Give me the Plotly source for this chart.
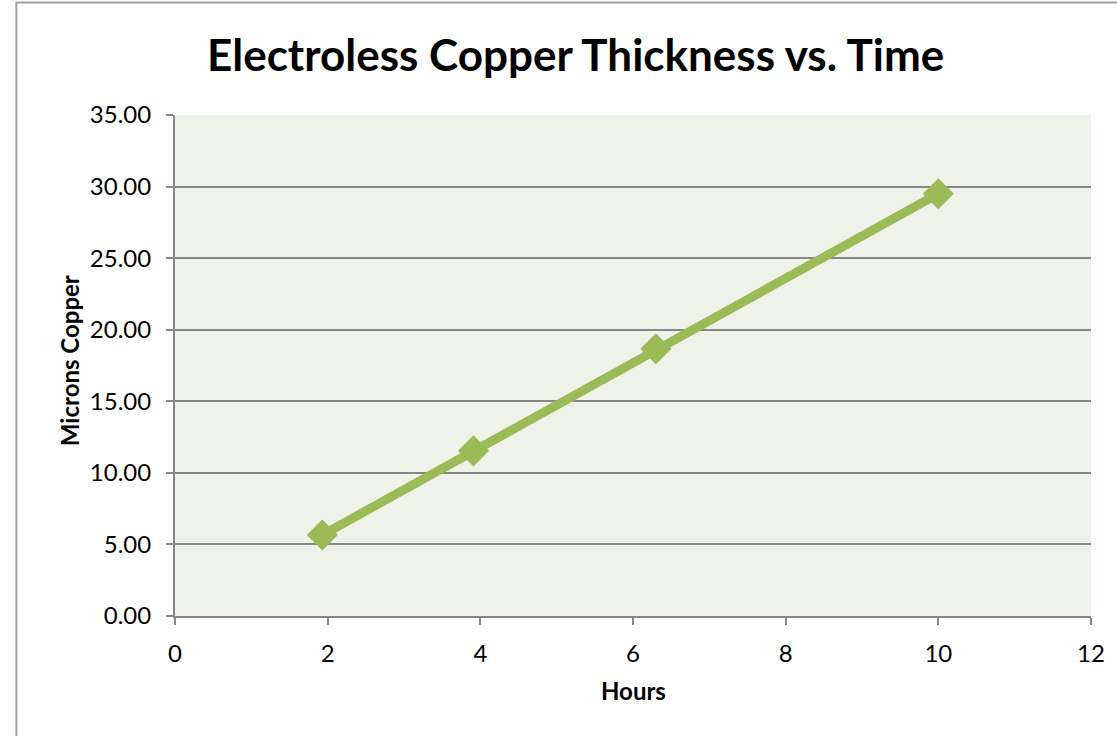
import plotly.graph_objects as go

hours = [1.93, 3.91, 6.30, 10.0]
microns = [5.66, 11.54, 18.67, 29.5]
title = "Electroless Copper Thickness vs. Time"
x_title = "Hours"
y_title = "Microns Copper"

FONT = "Lato"
GREEN = "#9BBB59"
GRID = "#878787"

fig = go.Figure()
fig.add_trace(go.Scatter(
    x=hours, y=microns, mode="lines+markers",
    line=dict(color=GREEN, width=9),
    marker=dict(symbol="diamond", size=24, color=GREEN),
    showlegend=False, cliponaxis=False,
))

fig.update_layout(
    width=1117, height=736,
    margin=dict(l=175, r=24, t=115, b=120),
    paper_bgcolor="white",
    plot_bgcolor="#EEF2E8",
    font=dict(family=FONT, color="black", size=24),
    xaxis=dict(range=[0, 12], dtick=2, tick0=0, showgrid=False, zeroline=False,
               showline=True, linecolor=GRID, linewidth=2,
               ticks="outside", ticklen=7, tickcolor=GRID, tickwidth=2,
               tickfont=dict(size=24, family=FONT), ticklabelstandoff=8),
    yaxis=dict(range=[0, 35], dtick=5, tick0=0, tickformat=".2f",
               showgrid=True, gridcolor=GRID, gridwidth=1.5, zeroline=False,
               showline=True, linecolor=GRID, linewidth=2,
               ticks="outside", ticklen=7, tickcolor=GRID, tickwidth=2,
               tickfont=dict(size=24, family=FONT), ticklabelstandoff=10),
    shapes=[dict(type="rect", xref="paper", yref="paper",
                 x0=-0.1732, x1=1.1, y0=-0.4, y1=1.2248,
                 line=dict(color="#A0A0A0", width=2), fillcolor="rgba(0,0,0,0)", layer="below")],
    annotations=[
        dict(text=f"<b>{title}</b>", xref="paper", yref="paper", x=0.4368, y=1.121,
             xanchor="center", yanchor="middle", showarrow=False,
             font=dict(size=44, family=FONT)),
        dict(text=f"<b>{x_title}</b>", xref="paper", yref="paper", x=0.5, y=-0.148,
             xanchor="center", yanchor="middle", showarrow=False,
             font=dict(size=24, family=FONT)),
        dict(text=f"<b>{y_title}</b>", xref="paper", yref="paper", x=-0.115, y=0.51,
             xanchor="center", yanchor="middle", showarrow=False, textangle=-90,
             font=dict(size=24, family=FONT)),
    ],
)

fig.write_html("out.html")
